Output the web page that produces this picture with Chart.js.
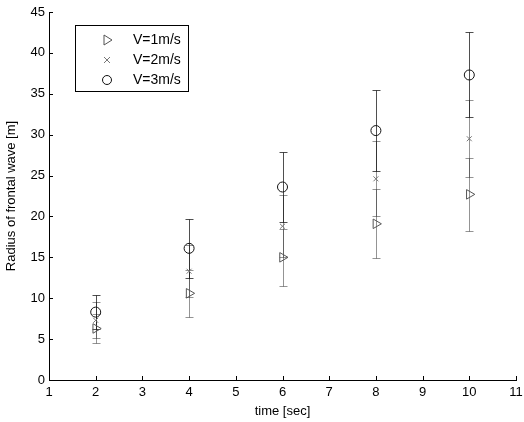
<!DOCTYPE html>
<html>
<head>
<meta charset="utf-8">
<script src="https://cdn.jsdelivr.net/npm/chart.js@4/dist/chart.umd.min.js"></script>
<style>
  html, body { margin: 0; padding: 0; background: #fff; }
  #wrap { width: 524px; height: 422px; }
</style>
</head>
<body>
<div id="wrap"><canvas id="waveChart" width="524" height="422"></canvas></div>
<script>
// data
const times = [2, 4, 6, 8, 10];
const v1 = [6.3, 10.6, 15.0, 19.1, 22.7];
const v1Err = [1.8, 2.9, 3.5, 4.2, 4.5];
const v2 = [7.3, 13.3, 18.8, 24.6, 29.5];
const v2Err = [2.2, 3.2, 3.8, 4.6, 4.7];
const v3 = [8.3, 16.1, 23.6, 30.5, 37.3];
const v3Err = [2.1, 3.6, 4.3, 5.0, 5.2];
const labels = ["V=1m/s", "V=2m/s", "V=3m/s"];

const FONT = "'Liberation Sans', Arial, Helvetica, sans-serif";

function pts(ys) {
  return times.map((t, i) => ({ x: t, y: ys[i] }));
}

const errs = [v1Err, v2Err, v3Err];

// error bars under the markers
const errorBars = {
  id: "errorBars",
  beforeDatasetsDraw(chart) {
    const { ctx, scales } = chart;
    ctx.save();
    chart.data.datasets.forEach((ds, di) => {
      ctx.strokeStyle = di === 2 ? "rgba(20,20,20,0.75)" : "rgba(60,60,60,0.55)";
      ctx.lineWidth = 1;
      ds.data.forEach((p, i) => {
        const e = errs[di][i];
        const x = Math.round(scales.x.getPixelForValue(p.x)) + 0.5;
        const yt = Math.round(scales.y.getPixelForValue(p.y + e)) + 0.5;
        const yb = Math.round(scales.y.getPixelForValue(p.y - e)) + 0.5;
        ctx.beginPath();
        ctx.moveTo(x, yt); ctx.lineTo(x, yb);
        ctx.moveTo(x - 4, yt); ctx.lineTo(x + 4, yt);
        ctx.moveTo(x - 4, yb); ctx.lineTo(x + 4, yb);
        ctx.stroke();
      });
    });
    ctx.restore();
  }
};

// inward tick marks like the original
const innerTicks = {
  id: "innerTicks",
  afterDraw(chart) {
    const { ctx, chartArea, scales } = chart;
    ctx.save();
    ctx.strokeStyle = "#000";
    ctx.lineWidth = 1;
    ctx.beginPath();
    scales.x.ticks.forEach(t => {
      const x = Math.round(scales.x.getPixelForValue(t.value)) + 0.5;
      ctx.moveTo(x, chartArea.bottom); ctx.lineTo(x, chartArea.bottom - 4);
    });
    scales.y.ticks.forEach(t => {
      const y = Math.round(scales.y.getPixelForValue(t.value)) + 0.5;
      ctx.moveTo(chartArea.left, y); ctx.lineTo(chartArea.left + 4, y);
    });
    ctx.stroke();
    ctx.restore();
  }
};

// boxed legend in the upper left
const boxLegend = {
  id: "boxLegend",
  afterDraw(chart) {
    const { ctx } = chart;
    const bx = 75, by = 25, bw = 113, bh = 66;
    ctx.save();
    ctx.fillStyle = "#fff";
    ctx.fillRect(bx, by, bw, bh);
    ctx.strokeStyle = "#000";
    ctx.lineWidth = 1;
    ctx.strokeRect(bx + 0.5, by + 0.5, bw, bh);
    chart.data.datasets.forEach((ds, i) => {
      const cy = by + 15 + i * 20;
      ctx.strokeStyle = ds.borderColor;
      ctx.lineWidth = 1;
      ctx.beginPath();
      const mx = 107;
      if (i === 0) {
        ctx.moveTo(mx - 3, cy - 5); ctx.lineTo(mx + 5, cy); ctx.lineTo(mx - 3, cy + 5); ctx.closePath();
      } else if (i === 1) {
        ctx.moveTo(mx - 3, cy - 3); ctx.lineTo(mx + 3, cy + 3);
        ctx.moveTo(mx - 3, cy + 3); ctx.lineTo(mx + 3, cy - 3);
      } else {
        ctx.arc(mx, cy, 4.5, 0, Math.PI * 2);
      }
      ctx.stroke();
      ctx.fillStyle = "#000";
      ctx.font = "14px " + FONT;
      ctx.textBaseline = "middle";
      ctx.fillText(ds.label, 133, cy);
    });
    ctx.restore();
  }
};

new Chart(document.getElementById("waveChart").getContext("2d"), {
  type: "scatter",
  data: {
    datasets: [
      { label: labels[0], data: pts(v1), pointStyle: "triangle", rotation: 90, radius: 5.5,
        borderColor: "#555", backgroundColor: "rgba(0,0,0,0)", borderWidth: 1 },
      { label: labels[1], data: pts(v2), pointStyle: "crossRot", radius: 3.5,
        borderColor: "#777", backgroundColor: "rgba(0,0,0,0)", borderWidth: 1 },
      { label: labels[2], data: pts(v3), pointStyle: "circle", radius: 5,
        borderColor: "#111", backgroundColor: "rgba(0,0,0,0)", borderWidth: 1 }
    ]
  },
  options: {
    responsive: false,
    animation: false,
    layout: { padding: { top: 12, right: 8, left: 4, bottom: 0 } },
    plugins: {
      legend: { display: false },
      tooltip: { enabled: false }
    },
    scales: {
      x: {
        type: "linear", min: 1, max: 11,
        ticks: { stepSize: 1, color: "#000", font: { family: FONT, size: 13 }, padding: 5, maxRotation: 0 },
        grid: { display: false, drawTicks: false },
        border: { display: true, color: "#000", width: 1 },
        title: { display: true, text: "time [sec]", color: "#000", font: { family: FONT, size: 13 }, padding: { top: 0, bottom: 3 } },
        afterFit(s) { s.height = 42; s.paddingLeft = 0; s.paddingRight = 0; }
      },
      y: {
        min: 0, max: 45,
        ticks: { stepSize: 5, color: "#000", font: { family: FONT, size: 13 }, padding: 4 },
        grid: { display: false, drawTicks: false },
        border: { display: true, color: "#000", width: 1 },
        title: { display: true, text: "Radius of frontal wave [m]", color: "#000", font: { family: FONT, size: 13 }, padding: { top: 0, bottom: 2 } },
        afterFit(s) { s.width = 45; s.paddingTop = 0; s.paddingBottom = 0; }
      }
    }
  },
  plugins: [errorBars, innerTicks, boxLegend]
});
</script>
</body>
</html>
